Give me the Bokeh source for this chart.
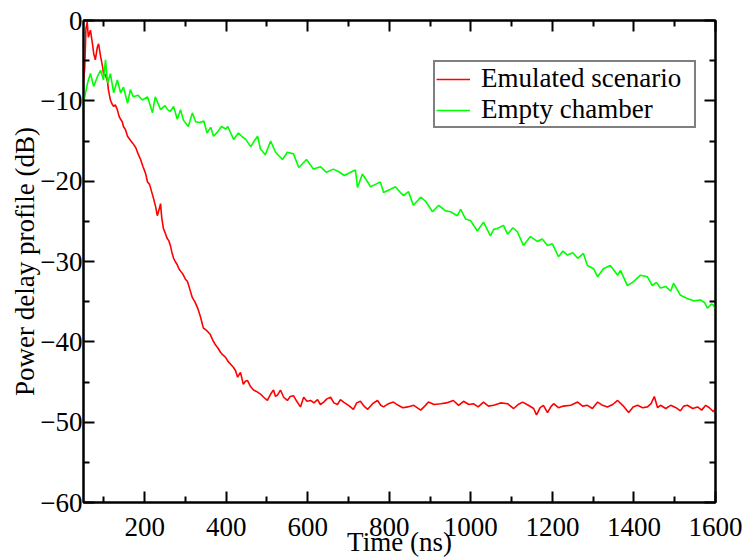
from bokeh.plotting import figure
from bokeh.models import Range1d, LinearAxis, FixedTicker, Legend, LegendItem
from bokeh.embed import file_html
from bokeh.resources import INLINE

# ---- data ----
red_x = [50, 53, 56, 59, 62, 65, 67, 72, 75, 79, 84, 87, 92, 97, 99, 104, 109, 111, 116, 120,
         124, 128, 133, 137, 141, 145, 148, 153, 158, 165, 171, 178, 184, 190, 196, 202, 207, 212,
         217, 222, 227, 231, 235, 239, 242, 246, 250, 255, 259, 263, 267, 271, 275, 280, 284, 288,
         294, 300, 305, 311, 317, 323, 330, 337, 344, 350, 356, 361, 368, 374, 380, 386, 391, 398,
         404, 411, 418, 423, 428, 435, 442, 447, 452, 460, 467, 475, 484, 492, 501, 509, 516, 521,
         526, 533, 541, 550, 557, 565, 573, 582, 590, 598, 607, 615, 624, 631, 639, 647, 656, 664,
         673, 680, 688, 700, 712, 720, 729, 738, 747, 759, 771, 779, 786, 798, 810, 822, 833, 845,
         860, 877, 887, 896, 910, 926, 940, 957, 970, 982, 995, 1006, 1018, 1031, 1043, 1056, 1073,
         1090, 1105, 1116, 1127, 1141, 1154, 1161, 1170, 1178, 1188, 1196, 1203, 1215, 1227, 1245,
         1262, 1274, 1286, 1298, 1311, 1323, 1335, 1348, 1360, 1374, 1387, 1398, 1409, 1421, 1433,
         1442, 1450, 1458, 1465, 1478, 1490, 1503, 1514, 1522, 1531, 1544, 1556, 1566, 1576, 1585,
         1595, 1600]
red_y = [-7.5, -6.0, -1.0, -0.2, -2.1, -1.5, -1.2, -2.9, -4.1, -4.9, -3.3, -2.9, -4.5, -5.8, -6.6,
         -6.8, -7.6, -8.6, -9.9, -10.4, -10.7, -10.5, -11.1, -11.9, -12.3, -12.6, -13.2, -13.6,
         -14.4, -14.9, -15.3, -15.8, -16.6, -17.3, -18.2, -19.0, -20.1, -20.4, -21.3, -22.2, -23.2,
         -24.3, -23.6, -22.8, -24.6, -25.9, -26.4, -27.1, -27.4, -28.0, -28.9, -29.6, -30.0, -30.4,
         -30.9, -31.2, -31.6, -32.2, -32.5, -33.5, -34.5, -35.0, -35.8, -36.9, -38.3, -38.5, -38.8,
         -39.1, -39.9, -40.4, -40.8, -41.3, -41.6, -41.9, -42.4, -42.8, -43.2, -43.6, -44.4, -43.8,
         -45.3, -44.9, -44.8, -45.6, -46.0, -46.2, -46.5, -46.9, -47.3, -46.5, -46.0, -46.8, -46.6,
         -46.0, -46.9, -47.3, -46.8, -46.7, -47.4, -48.1, -46.9, -47.4, -47.3, -47.6, -47.2, -47.8,
         -47.5, -47.1, -46.9, -47.6, -47.8, -47.2, -47.5, -47.9, -48.4, -47.6, -47.4, -48.0, -48.4,
         -47.7, -47.3, -47.9, -48.1, -47.7, -47.5, -47.9, -48.2, -48.1, -47.9, -48.5, -48.0, -47.5,
         -47.8, -47.7, -47.6, -47.3, -47.9, -47.4, -47.8, -47.7, -48.1, -47.5, -48.0, -47.9, -47.6,
         -47.7, -48.3, -47.8, -47.5, -47.9, -48.3, -49.1, -48.2, -47.9, -48.8, -48.1, -47.7, -48.2,
         -48.0, -47.9, -47.5, -48.0, -47.9, -48.3, -47.5, -47.9, -48.1, -47.8, -47.3, -48.0, -48.8,
         -48.1, -47.9, -48.2, -48.1, -47.7, -46.8, -48.2, -47.9, -48.3, -47.9, -48.2, -48.6, -48.0,
         -47.9, -48.3, -48.1, -48.5, -47.9, -48.2, -48.7, -48.3]

green_x = [50, 55, 59, 62, 67, 75, 84, 92, 99, 104, 109, 116, 124, 133, 141, 148, 158, 165, 172,
           184, 194, 207, 219, 226, 239, 250, 256, 263, 271, 280, 288, 295, 307, 317, 325, 336, 345,
           353, 362, 369, 380, 388, 399, 404, 418, 430, 440, 448, 460, 470, 477, 484, 496, 509, 521,
           538, 550, 565, 578, 597, 614, 631, 646, 663, 675, 690, 705, 717, 722, 734, 747, 754, 766,
           778, 786, 803, 815, 827, 835, 847, 859, 877, 889, 906, 921, 938, 950, 967, 975, 987, 999,
           1016, 1031, 1048, 1056, 1065, 1080, 1090, 1103, 1114, 1129, 1146, 1163, 1175, 1188, 1200,
           1215, 1226, 1237, 1250, 1262, 1276, 1286, 1301, 1311, 1325, 1342, 1360, 1367, 1384, 1399,
           1416, 1433, 1445, 1455, 1465, 1478, 1490, 1497, 1514, 1531, 1546, 1563, 1573, 1580, 1590,
           1595, 1600]
green_y = [-10.3, -9.0, -8.0, -7.4, -6.6, -8.2, -7.0, -6.2, -7.4, -4.9, -7.8, -6.6, -9.0, -7.4,
           -9.0, -8.3, -10.3, -8.6, -9.5, -9.3, -9.9, -9.5, -11.5, -9.5, -11.1, -10.6, -11.1, -11.3,
           -10.7, -12.3, -11.1, -12.4, -13.2, -11.5, -12.6, -12.7, -12.5, -14.0, -13.3, -14.4,
           -13.8, -13.2, -13.5, -13.2, -14.8, -14.0, -14.5, -14.8, -15.7, -14.9, -14.4, -16.0,
           -16.7, -15.0, -16.4, -17.3, -16.4, -16.6, -18.3, -17.3, -18.5, -18.2, -18.9, -18.5,
           -18.8, -19.3, -18.9, -18.6, -20.8, -19.1, -20.1, -20.7, -20.4, -20.1, -21.4, -21.0,
           -20.7, -21.4, -21.8, -21.3, -23.0, -22.0, -22.5, -23.8, -23.0, -23.7, -23.8, -24.3,
           -23.5, -24.7, -24.9, -26.2, -25.1, -26.8, -26.0, -25.9, -25.5, -26.6, -25.8, -26.3,
           -28.0, -26.9, -27.5, -27.2, -28.0, -27.8, -29.4, -28.7, -29.2, -28.9, -29.6, -29.0,
           -30.5, -30.9, -31.9, -30.9, -30.5, -31.7, -31.1, -33.0, -32.5, -31.7, -31.9, -33.0,
           -32.6, -33.3, -33.1, -33.7, -32.7, -34.2, -34.6, -34.9, -34.8, -35.1, -35.8, -35.3,
           -35.4, -36.0]

x_major_ticks = [200, 400, 600, 800, 1000, 1200, 1400, 1600]
x_minor_ticks = [100, 300, 500, 700, 900, 1100, 1300, 1500]
y_major_ticks = [-60, -50, -40, -30, -20, -10, 0]
y_minor_ticks = [-55, -45, -35, -25, -15, -5]

series_names = ["Emulated scenario", "Empty chamber"]
series_colors = ["#ff0000", "#00ff00"]

FONT = "Liberation Serif"

p = figure(width=747, height=559, output_backend="svg", toolbar_location=None,
           x_range=Range1d(50, 1600), y_range=Range1d(-60, 0),
           min_border_left=83, min_border_right=32, min_border_top=20, min_border_bottom=53,
           background_fill_color="white", border_fill_color="white")
p.grid.visible = False
p.outline_line_color = "black"
p.outline_line_width = 2

r1 = p.line(red_x, red_y, line_color=series_colors[0], line_width=1.6)
r2 = p.line(green_x, green_y, line_color=series_colors[1], line_width=1.6)

xt = FixedTicker(ticks=x_major_ticks, minor_ticks=x_minor_ticks)
yt = FixedTicker(ticks=y_major_ticks, minor_ticks=y_minor_ticks)


def style_axis(ax, show_labels):
    ax.major_tick_in = 11
    ax.major_tick_out = 0
    ax.minor_tick_in = 6
    ax.minor_tick_out = 0
    ax.major_tick_line_color = "black"
    ax.minor_tick_line_color = "black"
    ax.major_tick_line_width = 2
    ax.minor_tick_line_width = 2
    ax.axis_line_color = "black"
    ax.axis_line_width = 2
    if show_labels:
        ax.major_label_text_font = FONT
        ax.major_label_text_font_size = "27px"
        ax.major_label_text_color = "black"
        ax.axis_label_text_font = FONT
        ax.axis_label_text_font_size = "27px"
        ax.axis_label_text_font_style = "normal"
        ax.axis_label_text_color = "black"
    else:
        ax.major_label_text_font_size = "0px"
        ax.major_label_standoff = 0


p.xaxis.ticker = xt
p.yaxis.ticker = yt
style_axis(p.xaxis[0], True)
style_axis(p.yaxis[0], True)
p.xaxis.axis_label = "Time (ns)"
p.yaxis.axis_label = "Power delay profile (dB)"
p.xaxis.major_label_standoff = 15
p.xaxis.axis_label_standoff = -12
p.yaxis.major_label_standoff = 1
p.yaxis.axis_label_standoff = -3

top_ax = LinearAxis(ticker=xt)
style_axis(top_ax, False)
p.add_layout(top_ax, "above")
right_ax = LinearAxis(ticker=yt)
style_axis(right_ax, False)
p.add_layout(right_ax, "right")

legend = Legend(items=[LegendItem(label=series_names[0], renderers=[r1]),
                       LegendItem(label=series_names[1], renderers=[r2])],
                location=(350, 374))
legend.label_text_font = FONT
legend.label_text_font_size = "27px"
legend.label_text_color = "black"
legend.glyph_width = 34
legend.glyph_height = 20
legend.label_height = 20
legend.label_width = 212
legend.label_standoff = 11
legend.padding = 1
legend.spacing = -9
legend.margin = 0
legend.border_line_color = "black"
legend.border_line_width = 2
legend.background_fill_color = "white"
legend.background_fill_alpha = 1
p.add_layout(legend)

open("out.html", "w").write(file_html(p, INLINE))
